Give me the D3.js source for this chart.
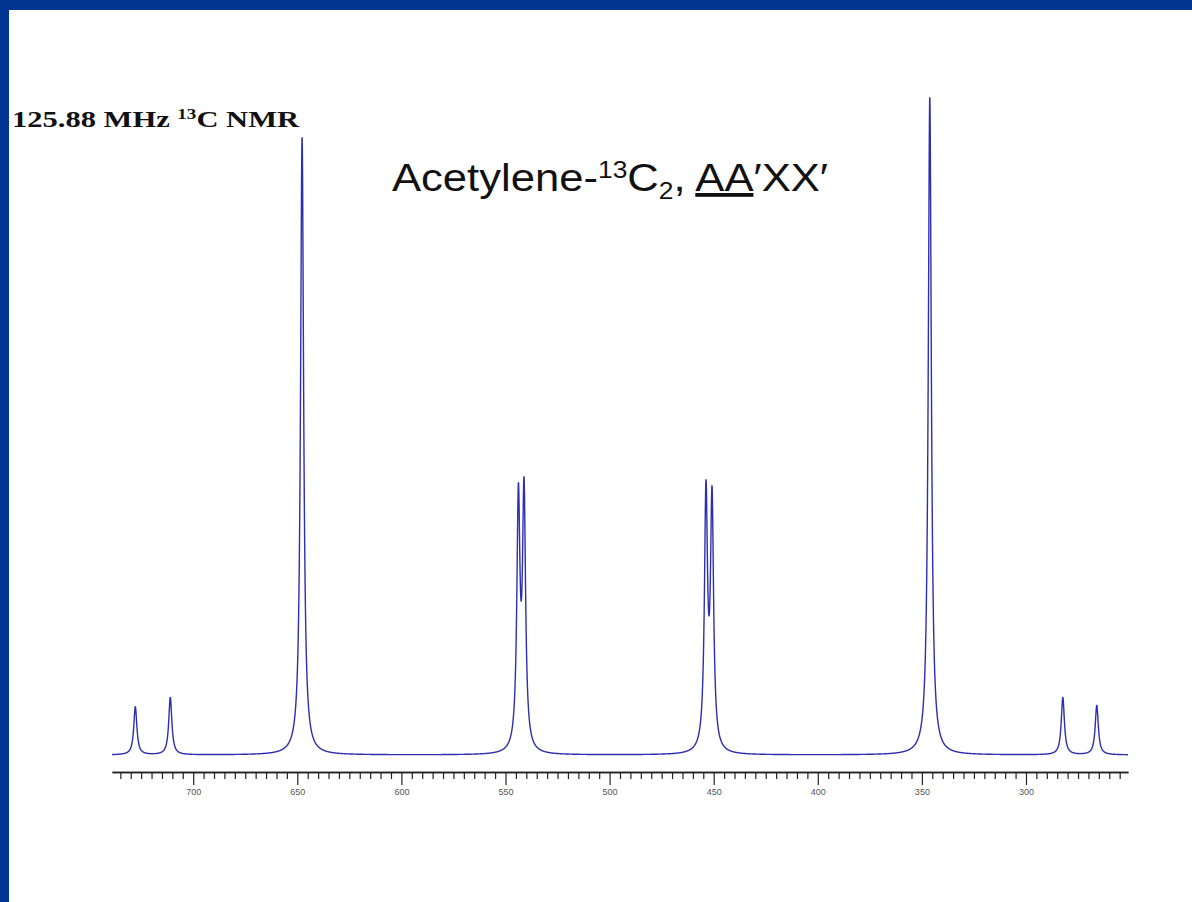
<!DOCTYPE html>
<html>
<head>
<meta charset="utf-8">
<script src="https://cdn.jsdelivr.net/npm/d3@7"></script>
<style>
  body { margin: 0; background: #003591; }
  svg { display: block; }
</style>
</head>
<body>
<svg width="1192" height="902"></svg>
<script>
// peak list (shift in axis units, intensity in % of tallest line)
const peakShifts  = [727.8, 711.0, 647.7, 543.8, 541.1, 453.7, 450.8, 346.2, 282.3, 266.0];
const peakHeights = [7.3,   8.7,   93.8,  37.5,  38.5,  38.5,  37.5,  99.9,  8.7,   7.5];
const majorTicks  = [700, 650, 600, 550, 500, 450, 400, 350, 300];
const axisRange   = [739, 251];
const lineWidth   = 0.9; // lorentzian half width, axis units

const svg = d3.select("svg"),
    width = +svg.attr("width"),
    height = +svg.attr("height");

// blue frame + white panel
svg.append("rect").attr("width", width).attr("height", height).attr("fill", "#003591");
svg.append("rect").attr("x", 9).attr("y", 10).attr("width", width - 9).attr("height", height - 10).attr("fill", "#fff");

var x = d3.scaleLinear()
    .domain(axisRange)
    .range([112, 1128]);

var y = d3.scaleLinear()
    .domain([0, 100])
    .range([755, 97]);

// spectrum trace built from the peak list
const g2 = lineWidth * lineWidth;
const intensity = s => {
    let v = 0;
    for (let i = 0; i < peakShifts.length; ++i) {
        let d = s - peakShifts[i];
        v += peakHeights[i] * g2 / (g2 + d * d);
    }
    return v;
};
var shifts = d3.range(axisRange[1], axisRange[0], 0.04).concat(peakShifts).sort((a, b) => a - b);
var spectrum = shifts.map(s => [s, intensity(s)]);

var line = d3.line()
    .x(d => x(d[0]))
    .y(d => y(d[1]));

svg.append("path")
    .datum(spectrum)
    .attr("d", line)
    .attr("fill", "none")
    .attr("stroke", "#2e2eb0")
    .attr("stroke-width", 1.4)
    .attr("stroke-linejoin", "round");

// axis: minor every 5, major every 50
var minorTicks = d3.range(735, 250, -5).filter(v => v % 50 !== 0);

var minorAxis = d3.axisBottom(x)
    .tickValues(minorTicks)
    .tickSize(7)
    .tickSizeOuter(0)
    .tickFormat("");

var majorAxis = d3.axisBottom(x)
    .tickValues(majorTicks)
    .tickSize(13)
    .tickSizeOuter(0)
    .tickPadding(4);

svg.append("g")
    .attr("transform", "translate(0,772)")
    .call(minorAxis);

var gMajor = svg.append("g")
    .attr("transform", "translate(0,772)")
    .call(majorAxis);

svg.selectAll(".domain").attr("stroke", "#222").attr("stroke-width", 1.6);
svg.selectAll(".tick line").attr("stroke", "#222").attr("stroke-width", 1.2);
gMajor.selectAll("text")
    .attr("fill", "#555")
    .style("font-family", "Liberation Sans, Arial, sans-serif")
    .style("font-size", "9px");

// labels
var left = svg.append("text")
    .attr("x", 12)
    .attr("y", 127)
    .attr("textLength", 287)
    .attr("lengthAdjust", "spacingAndGlyphs")
    .style("font-family", "Liberation Serif, Times New Roman, serif")
    .style("font-weight", "bold")
    .style("font-size", "24px")
    .attr("fill", "#111");
left.append("tspan").text("125.88 MHz ");
left.append("tspan").attr("dy", -8).style("font-size", "15px").text("13");
left.append("tspan").attr("dy", 8).text("C NMR");

var title = svg.append("text")
    .attr("x", 392)
    .attr("y", 191)
    .attr("textLength", 436)
    .attr("lengthAdjust", "spacingAndGlyphs")
    .style("font-family", "Liberation Sans, Arial, sans-serif")
    .style("font-size", "38px")
    .attr("fill", "#111");
title.append("tspan").text("Acetylene-");
title.append("tspan").attr("dy", -13).style("font-size", "23px").text("13");
title.append("tspan").attr("dy", 13).text("C");
title.append("tspan").attr("dy", 8).style("font-size", "23px").text("2");
title.append("tspan").attr("dy", -8).text(", ");
title.append("tspan").style("text-decoration", "underline").text("AA");
title.append("tspan").text("\u2032XX\u2032");
</script>
</body>
</html>
